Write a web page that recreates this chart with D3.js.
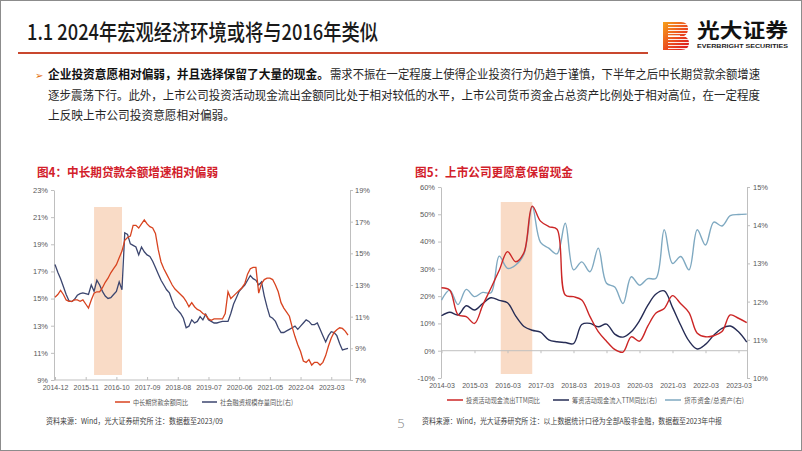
<!DOCTYPE html>
<html><head><meta charset="utf-8">
<script src="https://cdn.jsdelivr.net/npm/d3@7"></script>
<style>body{margin:0;background:#fff;} svg{display:block;}</style>
</head><body>
<svg id="s" width="802" height="451"></svg>
<script>
// ---------- DATA ----------
const titleText = "1.1 2024年宏观经济环境或将与2016年类似";
const paraBold = "企业投资意愿相对偏弱，并且选择保留了大量的现金。";
const paraLine1 = "需求不振在一定程度上使得企业投资行为仍趋于谨慎，下半年之后中长期贷款余额增速";
const paraLine2 = "逐步震荡下行。此外，上市公司投资活动现金流出金额同比处于相对较低的水平，上市公司货币资金占总资产比例处于相对高位，在一定程度";
const paraLine3 = "上反映上市公司投资意愿相对偏弱。";

// Fig 4 (monthly, 2014-12 .. 2023-09)
const fig4Title = "图4：中长期贷款余额增速相对偏弱";
const fig4Start = [2014, 12];
const loanYoY = [15.1,15.3,15.6,15.3,14.9,14.8,14.8,14.9,14.9,14.8,
  14.9,14.6,14.3,14.9,15.4,15.5,15.5,15.8,16.2,16.5,
  16.9,17.2,17.5,18.0,18.5,19.3,19.5,19.6,20.4,20.4,
  20.2,20.5,20.8,20.5,20.3,20.2,19.8,18.6,17.7,17.2,
  16.8,16.4,16.0,15.7,15.5,15.3,15.1,14.8,14.4,14.7,
  14.4,14.2,14.1,13.9,13.8,13.5,13.4,13.5,13.5,13.5,
  13.5,13.9,15.5,15.0,15.2,15.4,15.6,15.8,16.1,16.8,
  17.2,17.3,17.3,15.4,16.1,16.4,16.5,16.5,16.4,16.0,
  15.5,14.7,14.3,14.0,13.7,12.9,12.2,11.6,11.1,10.4,
  10.3,10.5,10.1,10.3,10.3,10.1,10.3,10.8,11.5,12.1,
  12.5,12.7,12.85,12.8,12.6,12.3];
const tsfYoY = [14.3,13.8,13.4,12.9,12.4,12.0,11.95,12.1,12.35,12.45,
  12.5,12.45,12.4,13.0,12.6,13.3,13.0,12.6,12.3,12.15,
  12.2,12.4,12.6,13.2,12.7,16.3,16.2,15.6,15.5,15.4,
  14.9,15.4,15.1,14.9,14.8,14.5,14.1,13.7,13.3,13.0,
  12.7,12.5,12.0,11.6,11.4,11.2,10.9,10.3,10.4,10.8,
  10.6,10.7,11.0,10.8,11.15,10.8,10.7,10.6,10.6,10.65,
  10.7,10.7,10.7,11.2,11.8,12.2,12.6,12.8,13.0,13.3,
  13.6,13.4,13.3,13.0,13.2,12.3,11.6,11.0,10.9,10.7,
  10.3,10.0,10.0,10.1,10.2,10.3,10.4,10.2,10.4,10.6,
  10.8,10.7,10.5,10.5,10.6,10.2,9.8,9.4,9.8,10.05,
  10.0,9.8,9.3,8.9,8.95,9.0];
const fig4XTicks = ["2014-12","2015-11","2016-10","2017-09","2018-08","2019-07","2020-06","2021-05","2022-04","2023-03"];
const fig4YLeftTicks = [9,11,13,15,17,19,21,23];
const fig4YRightTicks = [7,9,11,13,15,17,19];
const fig4Shade = ["2016-02","2016-12"];
const fig4Legend = ["中长期贷款余额同比","社会融资规模存量同比(右)"];
const fig4Source = "资料来源：Wind，光大证券研究所    注：数据截至2023/09";

// Fig 5 (quarterly, 2014-03 .. 2023-06)
const fig5Title = "图5：上市公司更愿意保留现金";
const fig5Start = [2014, 3];
const invOutYoY = [23.1,22.2,13.2,12.5,10.0,16.7,23.0,29.5,36.3,32.6,
  36.0,53.0,47.5,45.5,44.5,20.4,19.8,18.6,12.5,7.0,
  3.5,0.5,-0.5,5.1,3.5,9.0,13.8,15.5,20.2,17.2,
  14.0,6.4,5.1,5.5,7.0,13.1,11.9,10.3];
const finInYoY = [11.63,11.72,11.65,11.89,11.78,11.95,12.10,12.03,11.97,11.62,
  11.35,11.25,11.2,11.0,10.95,10.93,10.9,11.4,11.43,11.34,
  11.41,11.15,11.07,11.21,11.5,11.9,12.2,12.28,11.85,11.38,
  10.97,10.76,10.88,11.12,11.3,11.36,11.21,10.94];
const cashRatio = [12.04,12.3,11.92,12.32,12.13,12.24,12.23,13.19,12.87,12.96,
  13.25,14.49,13.55,13.4,13.25,14.05,12.83,13.04,12.78,13.40,
  12.48,12.38,11.95,12.65,12.43,12.6,12.61,13.88,13.0,13.18,
  12.83,13.88,13.48,14.08,13.98,14.25,14.28,14.29];
const fig5XTicks = ["2014-03","2015-03","2016-03","2017-03","2018-03","2019-03","2020-03","2021-03","2022-03","2023-03"];
const fig5YLeftTicks = [-10,0,10,20,30,40,50,60];
const fig5YRightTicks = [10,11,12,13,14,15];
const fig5Shade = ["2015-12","2016-12"];
const fig5Legend = ["投资活动现金流出TTM同比","筹资活动现金流入TTM同比(右)","货币资金/总资产(右)"];
const fig5Source = "资料来源：Wind，光大证券研究所    注：以上数据统计口径为全部A股非金融，数据截至2023年中报";
const pageNo = "5";

// ---------- HELPERS ----------
function monthLabels(start, n, stepMonths) {
  const out = [];
  let y = start[0], m = start[1];
  for (let i = 0; i < n; i++) {
    out.push(y + "-" + String(m).padStart(2, "0"));
    m += stepMonths; while (m > 12) { m -= 12; y++; }
  }
  return out;
}
const fig4Months = monthLabels(fig4Start, loanYoY.length, 1);
const fig5Quarters = monthLabels(fig5Start, invOutYoY.length, 3);

const svg = d3.select("#s");
const CJK = "'Noto Sans CJK SC','Noto Sans',sans-serif";
const LAT = "'Liberation Sans',Arial,sans-serif";

// slide border
svg.append("rect").attr("x",0.5).attr("y",0.5).attr("width",801).attr("height",450)
  .attr("fill","#fff").attr("stroke","#8c8c8c").attr("stroke-width",1);

// title
svg.append("text").attr("x",27).attr("y",40).text(titleText)
  .attr("font-family",CJK).attr("font-size",22).attr("font-weight",500).attr("fill","#1a1a1a")
  .attr("textLength",351).attr("lengthAdjust","spacingAndGlyphs");
svg.append("line").attr("x1",18).attr("x2",648).attr("y1",53).attr("y2",53)
  .attr("stroke","#C9472E").attr("stroke-width",2);

// logo
const defs = svg.append("defs");
const lg = defs.append("linearGradient").attr("id","lg").attr("x1","0").attr("y1","0").attr("x2","1").attr("y2","1");
lg.append("stop").attr("offset","0%").attr("stop-color","#F7A21B");
lg.append("stop").attr("offset","55%").attr("stop-color","#EA4A1F");
lg.append("stop").attr("offset","100%").attr("stop-color","#D9101D");
const logo = svg.append("g");
logo.append("path").attr("d","M663,22 H681 Q688,22 688,29 Q688,34 684,36 Q689,38 689,43 Q689,50 681,50 H663 Z").attr("fill","url(#lg)");
for (let yy = 24.5; yy < 50; yy += 3) {
  logo.append("line").attr("x1",668).attr("x2",690).attr("y1",yy).attr("y2",yy).attr("stroke","#fff").attr("stroke-width",0.9);
}
logo.append("rect").attr("x",668).attr("y",35.3).attr("width",12).attr("height",1.6).attr("fill","#fff");
svg.append("text").attr("x",697).attr("y",38).text("光大证券").attr("font-family",CJK).attr("font-weight",700)
  .attr("font-size",20).attr("fill","#111").attr("textLength",91).attr("lengthAdjust","spacingAndGlyphs");
svg.append("text").attr("x",697).attr("y",47.5).text("EVERBRIGHT SECURITIES").attr("font-family",LAT).attr("font-weight",700)
  .attr("font-size",6).attr("fill","#222").attr("textLength",91).attr("lengthAdjust","spacingAndGlyphs");

// paragraph
svg.append("text").attr("x",35).attr("y",79).text("➢").attr("font-family","'DejaVu Sans'").attr("font-size",10).attr("fill","#E46C0A");
const pf = 12, pcol = "#262626";
svg.append("text").attr("x",48).attr("y",79).text(paraBold).attr("font-family",CJK).attr("font-weight",700)
  .attr("font-size",pf).attr("fill","#111").attr("textLength",281).attr("lengthAdjust","spacingAndGlyphs");
svg.append("text").attr("x",330).attr("y",79).text(paraLine1).attr("font-family",CJK)
  .attr("font-size",pf).attr("fill",pcol).attr("textLength",430).attr("lengthAdjust","spacingAndGlyphs");
svg.append("text").attr("x",48).attr("y",100).text(paraLine2).attr("font-family",CJK)
  .attr("font-size",pf).attr("fill",pcol).attr("textLength",712).attr("lengthAdjust","spacingAndGlyphs");
svg.append("text").attr("x",48).attr("y",120).text(paraLine3).attr("font-family",CJK)
  .attr("font-size",pf).attr("fill",pcol).attr("textLength",187).attr("lengthAdjust","spacingAndGlyphs");

// chart titles
svg.append("text").attr("x",37).attr("y",177).text(fig4Title).attr("font-family",CJK).attr("font-weight",700)
  .attr("font-size",12.5).attr("fill","#D2202A").attr("textLength",181).attr("lengthAdjust","spacingAndGlyphs");
svg.append("text").attr("x",415).attr("y",177).text(fig5Title).attr("font-family",CJK).attr("font-weight",700)
  .attr("font-size",12.5).attr("fill","#D2202A").attr("textLength",158).attr("lengthAdjust","spacingAndGlyphs");

const axisCol = "#BFBFBF", labCol = "#595959";
function styleAxis(g, fs) {
  g.selectAll(".domain").attr("stroke",axisCol);
  g.selectAll(".tick line").attr("stroke",axisCol);
  g.selectAll(".tick text").attr("fill",labCol).attr("font-family",LAT).attr("font-size",fs||7.5);
}

// ---------- FIG 4 ----------
const x4 = d3.scaleLinear().domain([0, loanYoY.length - 1]).range([55, 348]);
const y4l = d3.scaleLinear().domain([9, 23]).range([380, 190]);
const y4r = d3.scaleLinear().domain([7, 19]).range([380, 190]);
const idx4 = l => fig4Months.indexOf(l);

svg.append("rect").attr("x",x4(idx4(fig4Shade[0]))).attr("width",x4(idx4(fig4Shade[1]))-x4(idx4(fig4Shade[0])))
  .attr("y",207).attr("height",168).attr("fill","#F9DBC6");

const g4l = svg.append("g").attr("transform","translate(54,0)")
  .call(d3.axisLeft(y4l).tickValues(fig4YLeftTicks).tickFormat(d=>d+"%").tickSize(3).tickPadding(3).tickSizeOuter(0));
styleAxis(g4l);
const g4r = svg.append("g").attr("transform","translate(350,0)")
  .call(d3.axisRight(y4r).tickValues(fig4YRightTicks).tickFormat(d=>d+"%").tickSize(3).tickPadding(2).tickSizeOuter(0));
styleAxis(g4r);
const g4x = svg.append("g").attr("transform","translate(0,380)")
  .call(d3.axisBottom(x4).tickValues(fig4XTicks.map(idx4)).tickFormat(i=>fig4Months[i]).tickSize(-3).tickPadding(5).tickSizeOuter(0));
g4x.select(".domain").attr("d","M54,0H350");
styleAxis(g4x, 7);

const line4l = d3.line().x((d,i)=>x4(i)).y(d=>y4l(d));
const line4r = d3.line().x((d,i)=>x4(i)).y(d=>y4r(d));
svg.append("path").attr("d",line4r(tsfYoY)).attr("fill","none").attr("stroke","#3C466F").attr("stroke-width",1.3);
svg.append("path").attr("d",line4l(loanYoY)).attr("fill","none").attr("stroke","#D8431F").attr("stroke-width",1.3);

// legend 4
const leg4 = [{c:"#D8431F",x:115,w:55},{c:"#3C466F",x:202,w:73}];
leg4.forEach((l,i)=>{
  svg.append("line").attr("x1",l.x).attr("x2",l.x+15).attr("y1",402).attr("y2",402).attr("stroke",l.c).attr("stroke-width",1.5);
  svg.append("text").attr("x",l.x+18).attr("y",404.5).text(fig4Legend[i]).attr("font-family",CJK)
    .attr("font-size",7).attr("fill",labCol).attr("textLength",l.w).attr("lengthAdjust","spacingAndGlyphs");
});

// ---------- FIG 5 ----------
const x5 = d3.scaleLinear().domain([0, invOutYoY.length - 1]).range([441.5, 746.75]);
const y5l = d3.scaleLinear().domain([-10, 60]).range([378, 187]);
const y5r = d3.scaleLinear().domain([10, 15]).range([378, 187]);
const idx5 = l => fig5Quarters.indexOf(l);

svg.append("rect").attr("x",x5(idx5(fig5Shade[0]))+1.5).attr("width",x5(idx5(fig5Shade[1]))-x5(idx5(fig5Shade[0]))-1.5)
  .attr("y",202).attr("height",172).attr("fill","#F9DBC6");

const g5l = svg.append("g").attr("transform","translate(441,0)")
  .call(d3.axisLeft(y5l).tickValues(fig5YLeftTicks).tickFormat(d=>d+"%").tickSize(3).tickPadding(3).tickSizeOuter(0));
styleAxis(g5l);
const g5r = svg.append("g").attr("transform","translate(747,0)")
  .call(d3.axisRight(y5r).tickValues(fig5YRightTicks).tickFormat(d=>d+"%").tickSize(3).tickPadding(3).tickSizeOuter(0));
styleAxis(g5r);
const g5z = svg.append("g").attr("transform",`translate(0,${y5l(0)})`)
  .call(d3.axisBottom(x5).tickValues(fig5XTicks.map(idx5)).tickFormat("").tickSize(2.5).tickSizeOuter(0));
g5z.select(".domain").attr("d","M441,0H747");
styleAxis(g5z);
const g5x = svg.append("g").attr("transform","translate(0,379)")
  .call(d3.axisBottom(x5).tickValues(fig5XTicks.map(idx5)).tickFormat(i=>fig5Quarters[i]).tickSize(0).tickPadding(4.5));
g5x.select(".domain").remove();
styleAxis(g5x, 7);

const curve5 = d3.curveCatmullRom.alpha(0.5);
const line5l = d3.line().x((d,i)=>x5(i)).y(d=>y5l(d)).curve(curve5);
const line5r = d3.line().x((d,i)=>x5(i)).y(d=>y5r(d)).curve(curve5);
svg.append("path").attr("d",line5r(cashRatio)).attr("fill","none").attr("stroke","#7FA9C1").attr("stroke-width",1.4);
svg.append("path").attr("d",line5r(finInYoY)).attr("fill","none").attr("stroke","#262C55").attr("stroke-width",1.4);
svg.append("path").attr("d",line5l(invOutYoY)).attr("fill","none").attr("stroke","#CC2626").attr("stroke-width",1.4);

const leg5 = [{c:"#CC2626",x:447,w:74},{c:"#262C55",x:553,w:85},{c:"#7FA9C1",x:665,w:60}];
leg5.forEach((l,i)=>{
  svg.append("line").attr("x1",l.x).attr("x2",l.x+16).attr("y1",400).attr("y2",400).attr("stroke",l.c).attr("stroke-width",1.5);
  svg.append("text").attr("x",l.x+19).attr("y",402.5).text(fig5Legend[i]).attr("font-family",CJK)
    .attr("font-size",7).attr("fill",labCol).attr("textLength",l.w).attr("lengthAdjust","spacingAndGlyphs");
});

// footers
svg.append("text").attr("x",46).attr("y",424).text(fig4Source).attr("font-family",CJK).attr("font-size",7.5)
  .attr("fill","#404040").attr("textLength",177).attr("lengthAdjust","spacingAndGlyphs");
svg.append("text").attr("x",422).attr("y",424).text(fig5Source).attr("font-family",CJK).attr("font-size",7.5)
  .attr("fill","#404040").attr("textLength",300).attr("lengthAdjust","spacingAndGlyphs");
svg.append("text").attr("x",401).attr("y",428).text(pageNo).attr("text-anchor","middle").attr("font-family","'Open Sans',sans-serif")
  .attr("font-size",13).attr("font-weight",300).attr("fill","#7f7f7f");
</script>
</body></html>
